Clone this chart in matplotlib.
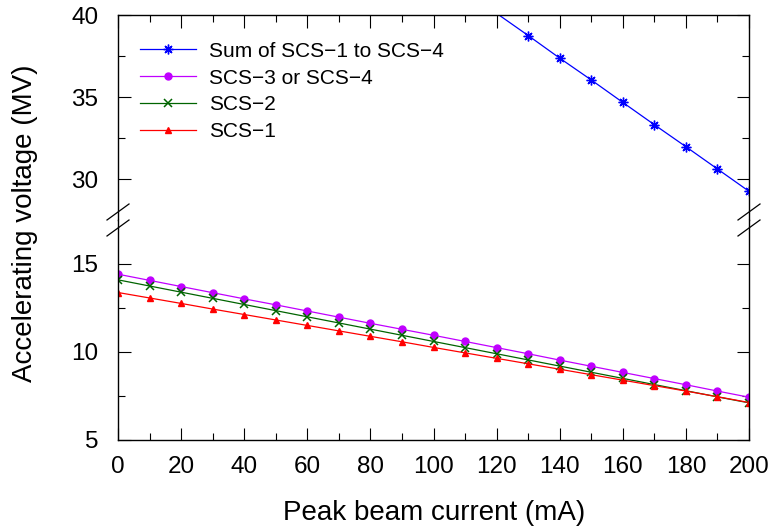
import numpy as np
import matplotlib.pyplot as plt
from matplotlib.ticker import FixedLocator
from matplotlib.lines import Line2D

plt.rcParams['font.family'] = ['Liberation Sans', 'DejaVu Sans']

# Peak beam current (mA)
current = [0, 10, 20, 30, 40, 50, 60, 70, 80, 90, 100,
           110, 120, 130, 140, 150, 160, 170, 180, 190, 200]

# Accelerating voltage (MV)
scs1 = [13.38, 13.07, 12.76, 12.44, 12.13, 11.82, 11.51, 11.20, 10.89, 10.58, 10.26,
        9.95, 9.64, 9.33, 9.02, 8.71, 8.40, 8.09, 7.78, 7.46, 7.13]
scs2 = [14.10, 13.75, 13.40, 13.05, 12.70, 12.35, 12.00, 11.65, 11.30, 10.95, 10.60,
        10.25, 9.90, 9.55, 9.20, 8.85, 8.50, 8.15, 7.80, 7.45, 7.11]
scs34 = [14.42, 14.07, 13.72, 13.37, 13.02, 12.68, 12.33, 11.98, 11.63, 11.29, 10.95,
         10.60, 10.25, 9.90, 9.54, 9.19, 8.84, 8.49, 8.14, 7.78, 7.43]

# sum curve, only the part that shows in the upper panel
sum_current = [110, 120, 130, 140, 150, 160, 170, 180, 190, 200]
sum_volt = [41.5, 40.1, 38.75, 37.37, 36.04, 34.67, 33.31, 31.97, 30.61, 29.25]

W, H = 775, 532
fig = plt.figure(figsize=(W / 100, H / 100), dpi=100)

left_px, right_px = 118, 749
top_px, mid_px, bot_px = 15, 220, 440
x0 = left_px / W
w = (right_px - left_px) / W
ax_top = fig.add_axes([x0, 1 - mid_px / H, w, (mid_px - top_px) / H])
ax_bot = fig.add_axes([x0, 1 - bot_px / H, w, (bot_px - mid_px) / H])

lw = 0.9
ms = 5
ast = (8, 2, 0)
col_sum = '#0000ff'
col_34 = '#c000ff'
col_2 = '#006400'
col_1 = '#ff0000'

shown = [i for i, v in enumerate(sum_volt) if v <= 40]

for ax in (ax_top, ax_bot):
    ax.plot(sum_current, sum_volt, color=col_sum, lw=lw, marker=ast, ms=7,
            markevery=shown, label='Sum of SCS\u22121 to SCS\u22124')
    ax.plot(current, scs34, color=col_34, lw=lw, marker='o', ms=ms,
            label='SCS\u22123 or SCS\u22124')
    ax.plot(current, scs2, color=col_2, lw=lw, marker='x', ms=ms + 1, mew=1.1,
            label='SCS\u22122')
    ax.plot(current, scs1, color=col_1, lw=lw, marker='^', ms=ms,
            label='SCS\u22121')
    ax.set_xlim(0, 200)
    ax.xaxis.set_major_locator(FixedLocator(np.arange(0, 201, 20)))
    ax.xaxis.set_minor_locator(FixedLocator(np.arange(10, 200, 20)))
    ax.tick_params(which='both', direction='in', left=True, right=True,
                   labelsize=17.5, width=0.8)
    ax.tick_params(axis='x', pad=11.5)
    ax.tick_params(axis='y', pad=14)
    ax.tick_params(which='major', length=9)
    ax.tick_params(which='minor', length=5)
    for s in ax.spines.values():
        s.set_linewidth(1.0)

ax_top.set_ylim(27.5, 40)
ax_top.yaxis.set_major_locator(FixedLocator([30, 35, 40]))
ax_top.yaxis.set_minor_locator(FixedLocator([32.5, 37.5]))
ax_top.tick_params(which='both', top=True, bottom=False, labelbottom=False)
ax_top.spines['bottom'].set_visible(False)

ax_bot.set_ylim(5, 17.5)
ax_bot.yaxis.set_major_locator(FixedLocator([5, 10, 15]))
ax_bot.yaxis.set_minor_locator(FixedLocator([7.5, 12.5]))
ax_bot.tick_params(which='both', top=False, bottom=True)
ax_bot.spines['top'].set_visible(False)

ax_top.legend(loc='upper left', bbox_to_anchor=(0.035, 0.87), frameon=False,
              fontsize=15, handlelength=2.7, handletextpad=0.6,
              labelspacing=0.38, borderpad=0, borderaxespad=0)

# break marks on both sides
for xc in (left_px, right_px):
    for yc in (212, 228):
        fig.add_artist(Line2D([(xc - 11) / W, (xc + 11) / W],
                              [1 - (yc + 8) / H, 1 - (yc - 8) / H],
                              color='black', lw=0.9))

fig.text(25 / W, 1 - 223 / H, 'Accelerating voltage (MV)', rotation=90,
         ha='center', va='center', fontsize=20)
fig.text(434 / W, 1 - 513 / H, 'Peak beam current (mA)',
         ha='center', va='center', fontsize=20)

fig.savefig('out.png', dpi=100)
